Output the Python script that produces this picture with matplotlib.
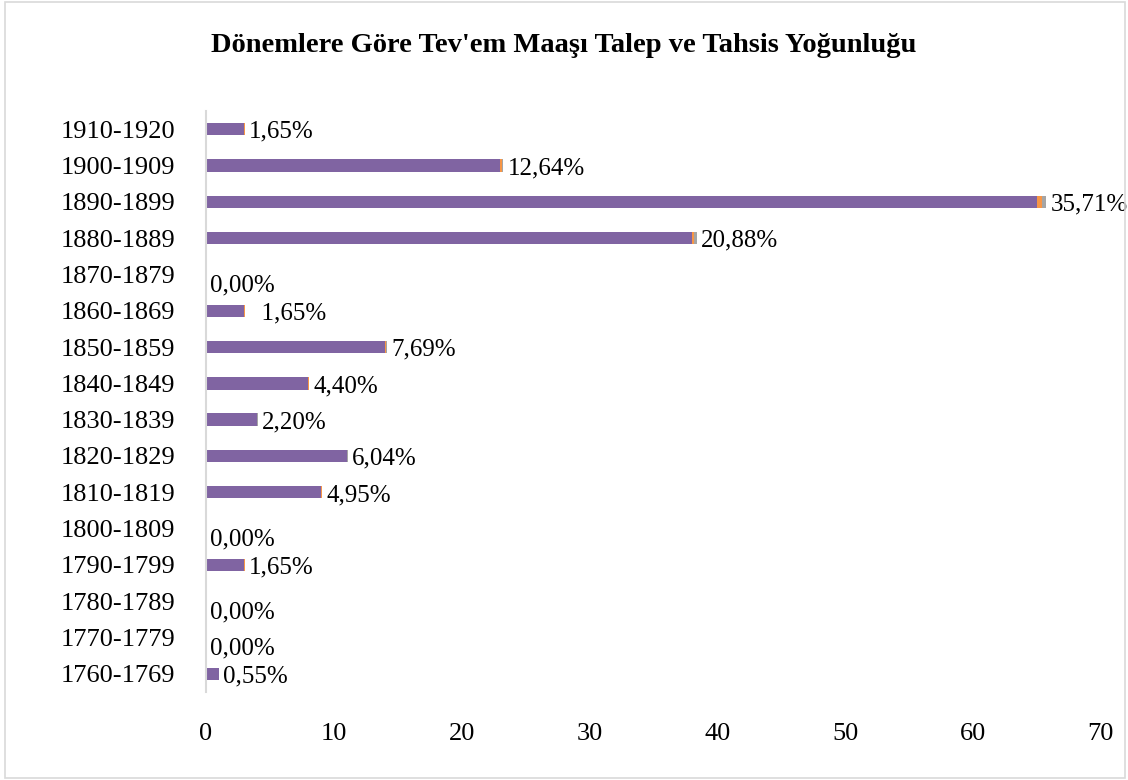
import numpy as np
import matplotlib
matplotlib.use("Agg")
import matplotlib.pyplot as plt

# data, bottom row first
periods = ["1760-1769", "1770-1779", "1780-1789", "1790-1799", "1800-1809",
           "1810-1819", "1820-1829", "1830-1839", "1840-1849", "1850-1859",
           "1860-1869", "1870-1879", "1880-1889", "1890-1899", "1900-1909",
           "1910-1920"]
counts = [1, 0, 0, 3, 0, 9, 11, 4, 8, 14, 3, 0, 38, 65, 23, 3]
shares = [0.0055, 0.0, 0.0, 0.0165, 0.0, 0.0495, 0.0604, 0.0220, 0.0440, 0.0769,
          0.0165, 0.0, 0.2088, 0.3571, 0.1264, 0.0165]
labels = ["0,55%", "0,00%", "0,00%", "1,65%", "0,00%", "4,95%", "6,04%", "2,20%",
          "4,40%", "7,69%", "  1,65%", "0,00%", "20,88%", "35,71%", "12,64%", "1,65%"]

plt.rcParams['font.family'] = ['Liberation Serif', 'DejaVu Serif']

fig = plt.figure(figsize=(11.28, 7.8), dpi=100)
ax = fig.add_axes([0.1826, 0.1128, 0.7934, 0.7449])

y = np.arange(len(periods))
h = 0.34
counts = np.array(counts, dtype=float)
shares = np.array(shares)
ax.barh(y, counts, height=h, color="#8064A2")
ax.barh(y, shares, left=counts, height=h, color="#F79646")
ax.barh(y, shares, left=counts + shares, height=h, color="#A5A5A5")

for yi, c, s, lab in zip(y, counts, shares, labels):
    dy = -8 if c == 0 else -2
    ax.annotate(lab, (c + 2 * s, yi), xytext=(3, dy), textcoords="offset points",
                va="center", ha="left", fontsize=18, color="#000000")

ax.set_xlim(0, 70)
ax.set_ylim(-0.5, len(periods) - 0.5)
ax.set_xticks(range(0, 71, 10))
ax.set_yticks(y)
ax.set_yticklabels(periods)
ax.tick_params(axis="both", length=0, labelsize=19)
ax.tick_params(axis="x", pad=22)
ax.tick_params(axis="y", pad=22)
for side in ["top", "right", "bottom"]:
    ax.spines[side].set_visible(False)
ax.spines["left"].set_color("#D9D9D9")
ax.spines["left"].set_linewidth(1.5)

fig.text(0.5, 0.942, "Dönemlere Göre Tev'em Maaşı Talep ve Tahsis Yoğunluğu",
         ha="center", va="center", fontsize=20.5, fontweight="bold")

fig.patches.append(plt.Rectangle((0.004, 0.003), 0.993, 0.994, transform=fig.transFigure,
                                 fill=False, edgecolor="#D9D9D9", linewidth=1.2))

fig.savefig("out.png", dpi=100)
